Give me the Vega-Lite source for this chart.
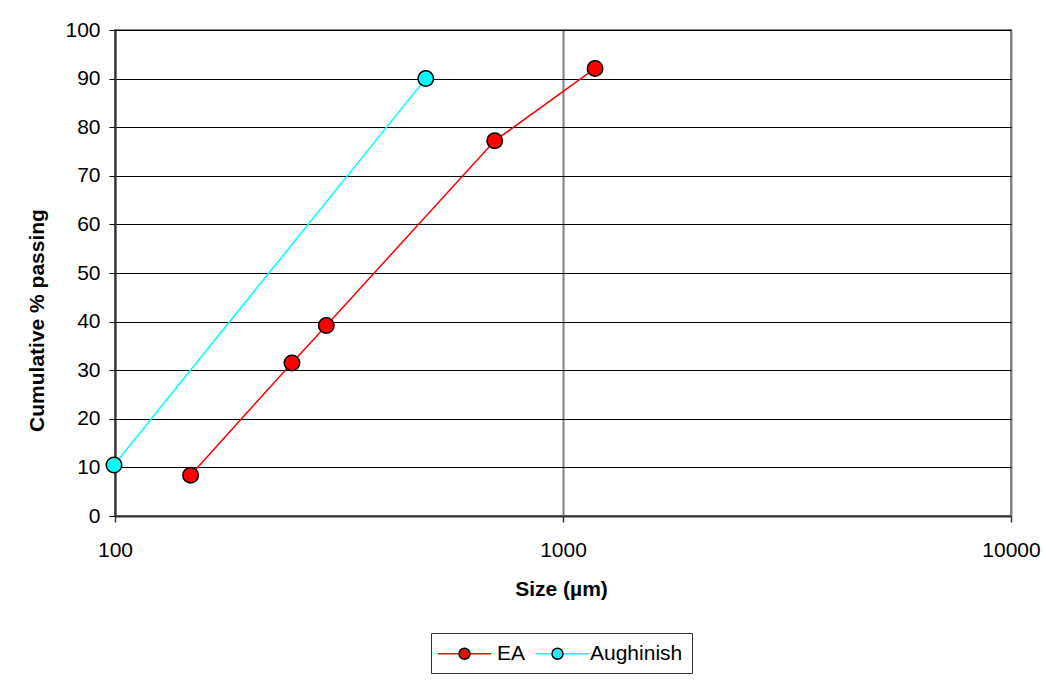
{
  "$schema": "https://vega.github.io/schema/vega-lite/v6.json",
  "width": 896,
  "height": 486,
  "autosize": {"type": "none"},
  "padding": {"left": 115, "top": 30, "right": 33, "bottom": 170},
  "background": "white",
  "config": {
    "view": {"stroke": "#808080", "strokeWidth": 2},
    "font": "Liberation Sans"
  },
  "data": {
    "values": [
      {"series": "EA", "series2": "EA", "size": 147.5, "passing": 8.4},
      {"series": "EA", "series2": "EA", "size": 248.3, "passing": 31.5},
      {"series": "EA", "series2": "EA", "size": 296.3, "passing": 39.2},
      {"series": "EA", "series2": "EA", "size": 704, "passing": 77.2},
      {"series": "EA", "series2": "EA", "size": 1179, "passing": 92.1},
      {"series": "Aughinish", "series2": "Aughinish", "size": 99.5, "passing": 10.5},
      {"series": "Aughinish", "series2": "Aughinish", "size": 494, "passing": 90.0}
    ]
  },
  "layer": [
    {
      "mark": {"type": "line", "strokeWidth": 1.5},
      "encoding": {
        "x": {
          "field": "size",
          "type": "quantitative",
          "scale": {"type": "log", "domain": [100, 10000]},
          "axis": {
            "values": [100, 1000, 10000],
            "format": "d",
            "title": "Size (µm)",
            "titleFont": "Liberation Sans",
            "titleFontSize": 21,
            "titleFontWeight": "bold",
            "titleColor": "black",
            "titleAlign": "center",
            "titleBaseline": "middle",
            "titleX": 446,
            "titleY": 73,
            "labelFont": "Liberation Sans",
            "labelFontSize": 21,
            "labelColor": "black",
            "labelBaseline": "top",
            "labelPadding": 17,
            "labelFlush": false,
            "labelOverlap": false,
            "labelBound": false,
            "tickSize": 6,
            "tickColor": "#333333",
            "tickWidth": 1.5,
            "domainColor": "#333333",
            "domainWidth": 2,
            "grid": true,
            "gridColor": "#808080",
            "gridWidth": 2
          }
        },
        "y": {
          "field": "passing",
          "type": "quantitative",
          "scale": {"domain": [0, 100]},
          "axis": {
            "values": [0, 10, 20, 30, 40, 50, 60, 70, 80, 90, 100],
            "title": "Cumulative % passing",
            "titleFont": "Liberation Sans",
            "titleFontSize": 21,
            "titleFontWeight": "bold",
            "titleColor": "black",
            "titleAngle": 270,
            "titleAlign": "center",
            "titleBaseline": "middle",
            "titleX": -78,
            "titleY": 290,
            "labelFont": "Liberation Sans",
            "labelFontSize": 21,
            "labelColor": "black",
            "labelPadding": 9,
            "labelOverlap": false,
            "labelBound": false,
            "labelFlush": false,
            "tickSize": 6,
            "tickColor": "#000000",
            "tickWidth": 1,
            "domainColor": "#333333",
            "domainWidth": 2,
            "grid": true,
            "gridColor": "#000000",
            "gridWidth": 1
          }
        },
        "stroke": {
          "field": "series",
          "type": "nominal",
          "scale": {"domain": ["EA", "Aughinish"], "range": ["#ff0000", "#00ffff"]},
          "legend": {
            "orient": "none",
            "legendX": 316,
            "legendY": 603,
            "direction": "horizontal",
            "title": null,
            "symbolType": "M-2.524,0L2.524,0",
            "symbolSize": 441,
            "symbolOffset": 13,
            "symbolStrokeWidth": 1.5,
            "symbolFillColor": "transparent",
            "labelOffset": 21,
            "labelExpr": "''",
            "labelFont": "Liberation Sans",
            "labelFontSize": 21,
            "labelColor": "black",
            "columnPadding": 35,
            "padding": 9
          }
        }
      }
    },
    {
      "mark": {"type": "point", "shape": "circle", "filled": true, "stroke": "black", "strokeWidth": 1.5, "size": 240, "opacity": 1},
      "encoding": {
        "x": {"field": "size", "type": "quantitative"},
        "y": {"field": "passing", "type": "quantitative"},
        "fill": {
          "field": "series2",
          "type": "nominal",
          "sort": ["EA", "Aughinish"],
          "scale": {"range": ["#ff0000", "#00ffff"]},
          "legend": {
            "orient": "none",
            "legendX": 316,
            "legendY": 603,
            "direction": "horizontal",
            "title": null,
            "symbolType": "M0.524,0A0.524,0.524,0,1,1,-0.524,0A0.524,0.524,0,1,1,0.524,0Z",
            "symbolSize": 441,
            "symbolOffset": 13,
            "symbolStrokeWidth": 1.5,
            "symbolStrokeColor": "black",
            "labelOffset": 21,
            "labelFont": "Liberation Sans",
            "labelFontSize": 21,
            "labelColor": "black",
            "columnPadding": 7,
            "padding": 9,
            "strokeColor": "#333333"
          }
        }
      }
    }
  ]
}
